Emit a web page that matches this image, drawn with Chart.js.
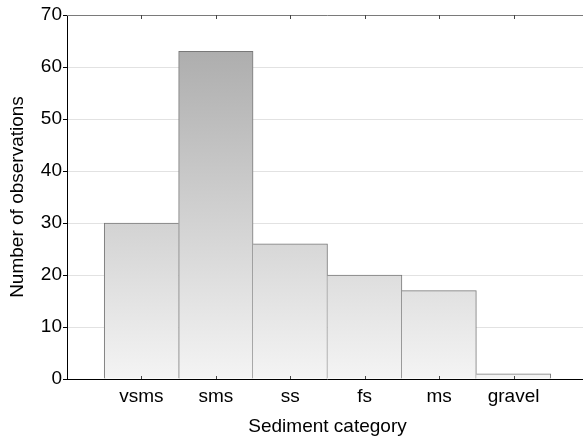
<!DOCTYPE html>
<html>
<head>
<meta charset="utf-8">
<script src="https://cdn.jsdelivr.net/npm/chart.js@4/dist/chart.umd.min.js"></script>
<style>
  html, body { margin: 0; padding: 0; background: #fff; overflow: hidden; }
  #chart { display: block; }
</style>
</head>
<body>
<canvas id="chart" width="594" height="441"></canvas>
<script>
const categories = ['vsms', 'sms', 'ss', 'fs', 'ms', 'gravel'];
const counts = [30, 63, 26, 20, 17, 1];
const yMin = 0;
const yMax = 70;
const yStep = 10;

const FONT = { family: 'Arial, "Liberation Sans", sans-serif', size: 19 };

// bars sit at x = 1..6 on a linear axis running 0..7
const points = counts.map((v, i) => ({ x: i + 1, y: v }));

function barFill(ctx) {
  const area = ctx.chart.chartArea;
  if (!area) return '#d0d0d0';
  const g = ctx.chart.ctx.createLinearGradient(0, area.top, 0, area.bottom);
  g.addColorStop(0, '#a6a6a6');
  g.addColorStop(1, '#f4f4f4');
  return g;
}

// only one line where two bars touch
function barBorder(ctx) {
  const i = ctx.dataIndex;
  const prev = i > 0 ? counts[i - 1] : null;
  const next = i < counts.length - 1 ? counts[i + 1] : null;
  return {
    top: 1,
    left: prev === null || prev <= counts[i] ? 1 : 0,
    right: next === null || next < counts[i] ? 1 : 0,
    bottom: 0
  };
}

const frame = {
  id: 'frame',
  afterDatasetsDraw(chart) {
    const { ctx, chartArea: a, scales: { x } } = chart;
    ctx.save();
    ctx.lineWidth = 1;
    ctx.strokeStyle = '#7a7a7a';
    ctx.beginPath();
    ctx.moveTo(a.left, Math.round(a.top) + 0.5);
    ctx.lineTo(a.right, Math.round(a.top) + 0.5);
    ctx.stroke();
    ctx.strokeStyle = '#000';
    ctx.beginPath();
    ctx.moveTo(a.left, Math.round(a.bottom) + 0.5);
    ctx.lineTo(a.right, Math.round(a.bottom) + 0.5);
    ctx.stroke();
    ctx.strokeStyle = '#444';
    categories.forEach((c, i) => {
      const px = Math.round(x.getPixelForValue(i + 1)) + 0.5;
      ctx.beginPath();
      ctx.moveTo(px, Math.round(a.top));
      ctx.lineTo(px, Math.round(a.top) + 4);
      ctx.moveTo(px, Math.round(a.bottom));
      ctx.lineTo(px, Math.round(a.bottom) - 3);
      ctx.stroke();
    });
    ctx.restore();
  }
};

new Chart(document.getElementById('chart'), {
  type: 'bar',
  data: {
    datasets: [{
      data: points,
      backgroundColor: barFill,
      borderColor: '#787878',
      borderWidth: barBorder,
      borderSkipped: false,
      barPercentage: 1,
      categoryPercentage: 1
    }]
  },
  options: {
    responsive: false,
    animation: false,
    layout: { padding: { top: 15, right: 3, left: 0, bottom: 0 } },
    plugins: { legend: { display: false }, tooltip: { enabled: false } },
    scales: {
      x: {
        type: 'linear',
        min: 0,
        max: categories.length + 1,
        offset: false,
        grid: { display: false, drawTicks: false, offset: false },
        border: { display: false },
        ticks: {
          stepSize: 1,
          autoSkip: false,
          maxRotation: 0,
          padding: 6,
          color: '#000',
          font: FONT,
          callback: v => categories[v - 1] || ''
        },
        title: {
          display: true,
          text: 'Sediment category',
          color: '#000',
          font: FONT,
          padding: { top: 0, bottom: 3 }
        },
        afterFit: s => { s.height = 62; }
      },
      y: {
        min: yMin,
        max: yMax,
        grid: { color: '#e2e2e2', tickColor: '#000', tickLength: 4 },
        border: { display: true, color: '#000' },
        ticks: {
          stepSize: yStep,
          padding: 1,
          color: '#000',
          font: FONT
        },
        title: {
          display: true,
          text: 'Number of observations',
          color: '#000',
          font: FONT,
          padding: { top: 6, bottom: 0 }
        },
        afterFit: s => { s.width = 67; }
      }
    }
  },
  plugins: [frame]
});
</script>
</body>
</html>
